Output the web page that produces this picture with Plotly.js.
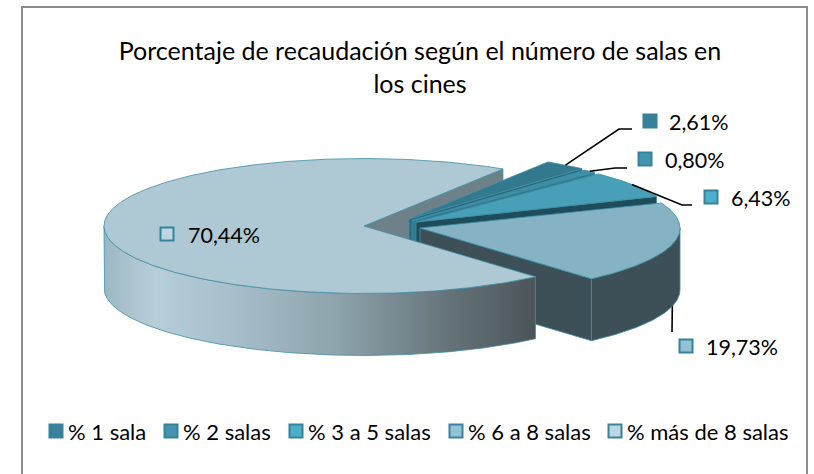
<!DOCTYPE html>
<html>
<head>
<meta charset="utf-8">
<script src="https://cdn.plot.ly/plotly-3.0.1.min.js"></script>
<style>html,body{margin:0;padding:0;background:#fff}#chart{width:814px;height:474px}</style>
</head>
<body>
<div id="chart"></div>
<script>
const titleText = 'Porcentaje de recaudación según el número de salas en<br>los cines';
const categories = ['% 1 sala', '% 2 salas', '% 3 a 5 salas', '% 6 a 8 salas', '% más de 8 salas'];
const values = [2.61, 0.80, 6.43, 19.73, 70.44];
const topColors = ['#33798d', '#3d8ea6', '#479fb8', '#85b3c4', '#aec8d4'];
const swatchColors = ['#37819a', '#4395af', '#4caecb', '#93c2d5', '#bcd7e2'];
const endWallColors = ['#2a687b', '#307a90', '#1f4c5b', '#3d5058', '#6f8188'];

const FONT = 'Lato, "Liberation Sans", sans-serif';
const EDGE = '#3f8ea6';
const RX = 260, RY = 67.5, DEPTH = 62;
const START = 32.3; // degrees clockwise from the back of the pie
const CENTERS = [[409, 219], [412, 220.5], [416, 222], [420, 228], [364, 226]];
const LABEL_SQ = [[650, 121], [645, 159], [711, 197], [686, 346], [167, 234]];
const LABEL_TX = [669, 665, 731, 706, 188];
const LEGEND_SQ = [56, 171, 296, 456, 615];
const LEGEND_Y = 431;

const total = values.reduce((a, b) => a + b, 0);
const spans = values.map(v => v / total * 360);
const starts = spans.map((_, i) => START + spans.slice(0, i).reduce((a, b) => a + b, 0));

function pt(c, deg, dz) {
  const r = deg * Math.PI / 180;
  return [c[0] + RX * Math.sin(r), c[1] - RY * Math.cos(r) + (dz || 0)];
}
function arc(c, a, b, dz) {
  const n = Math.max(2, Math.ceil(Math.abs(b - a) * 2)), out = [];
  for (let i = 0; i <= n; i++) out.push(pt(c, a + (b - a) * i / n, dz));
  return out;
}
function poly(points, color, extra) {
  const closed = points.concat([points[0]]);
  return Object.assign({
    type: 'scatter', mode: 'lines', x: closed.map(p => p[0]), y: closed.map(p => p[1]),
    fill: 'toself', fillcolor: color, line: {color: EDGE, width: 0.8},
    hoverinfo: 'skip', showlegend: false
  }, extra || {});
}
function topFace(i) {
  const c = CENTERS[i];
  return poly([c].concat(arc(c, starts[i], starts[i] + spans[i])), topColors[i]);
}
// flat wall from the centre out to the given rim angle
function radialWall(i, deg) {
  const c = CENTERS[i], p = pt(c, deg);
  return poly([c, p, [p[0], p[1] + DEPTH], [c[0], c[1] + DEPTH]], endWallColors[i]);
}
function rim(i, a, b, color, extra) {
  const c = CENTERS[i];
  return poly(arc(c, a, b).concat(arc(c, b, a, DEPTH)), color, extra);
}
function leader(points) {
  return {type: 'scatter', mode: 'lines', x: points.map(p => p[0]), y: points.map(p => p[1]),
    line: {color: '#000', width: 1.6}, hoverinfo: 'skip', showlegend: false};
}
const mid = i => pt(CENTERS[i], starts[i] + spans[i] / 2);
const leaders = [
  [mid(0), [619, 129], [632, 129]],
  [mid(1), [615, 168], [627, 168]],
  [mid(2), [682, 205], [692, 205]],
  [mid(3), [672, 332]]
];

const endOf = i => starts[i] + spans[i];
const traces = [
  radialWall(4, START),                  // inner wall of the big slice, at the back
  radialWall(0, endOf(0)), topFace(0),
  radialWall(1, endOf(1)), topFace(1),
  radialWall(2, endOf(2)), topFace(2),
  leader(leaders[3]),
  radialWall(3, endOf(3)),
  rim(3, 90, endOf(3), endWallColors[3]),
  topFace(3),
  rim(4, endOf(3), 270, '#8fa9b4', {
    fillgradient: {type: 'horizontal', start: 103, stop: 533, colorscale: [
      [0, '#9db7c2'], [0.12, '#b6ced8'], [0.3, '#a6bfca'], [0.55, '#8da3ac'], [0.8, '#657479'], [1, '#4c565a']
    ]}
  }),
  topFace(4),
  leader(leaders[0]), leader(leaders[1]), leader(leaders[2]),
  {type: 'scatter', mode: 'markers', x: LABEL_SQ.map(p => p[0]), y: LABEL_SQ.map(p => p[1]),
    marker: {symbol: 'square', size: 13, color: swatchColors, line: {color: '#37819a', width: 2}},
    hoverinfo: 'skip', showlegend: false},
  {type: 'scatter', mode: 'markers', x: LEGEND_SQ, y: LEGEND_SQ.map(() => LEGEND_Y),
    marker: {symbol: 'square', size: 13, color: swatchColors, line: {color: '#37819a', width: 2}},
    text: categories, hoverinfo: 'text', showlegend: false}
];

const valueLabels = values.map(v => v.toFixed(2).replace('.', ',') + '%');
const annotations = valueLabels.map((t, i) => ({
  x: LABEL_TX[i], y: LABEL_SQ[i][1] + 0.5, text: t, showarrow: false, xanchor: 'left', yanchor: 'middle',
  xref: 'x', yref: 'y', xshift: -2, font: {family: FONT, size: 21.5, color: '#000'}
})).concat(categories.map((t, i) => ({
  x: LEGEND_SQ[i] + 10, y: LEGEND_Y + 0.5, text: t, showarrow: false, xanchor: 'left', yanchor: 'middle',
  xref: 'x', yref: 'y', font: {family: FONT, size: 22, color: '#000'}
})));

const layout = {
  width: 814, height: 474, margin: {l: 0, r: 0, t: 0, b: 0},
  paper_bgcolor: '#fff', plot_bgcolor: '#fff', showlegend: false,
  title: {text: titleText, font: {family: FONT, size: 25, color: '#000'},
    x: 420 / 814, xanchor: 'center', xref: 'paper', y: 0.873, yanchor: 'middle', yref: 'container'},
  xaxis: {range: [0, 814], visible: false, fixedrange: true},
  yaxis: {range: [474, 0], visible: false, fixedrange: true},
  shapes: [{type: 'rect', xref: 'x', yref: 'y', x0: 22, y0: 7, x1: 807, y1: 490,
    line: {color: '#8c8c8c', width: 2}, fillcolor: 'rgba(0,0,0,0)', layer: 'below'}],
  annotations: annotations
};
Plotly.newPlot('chart', traces, layout, {displayModeBar: false});
</script>
</body>
</html>
